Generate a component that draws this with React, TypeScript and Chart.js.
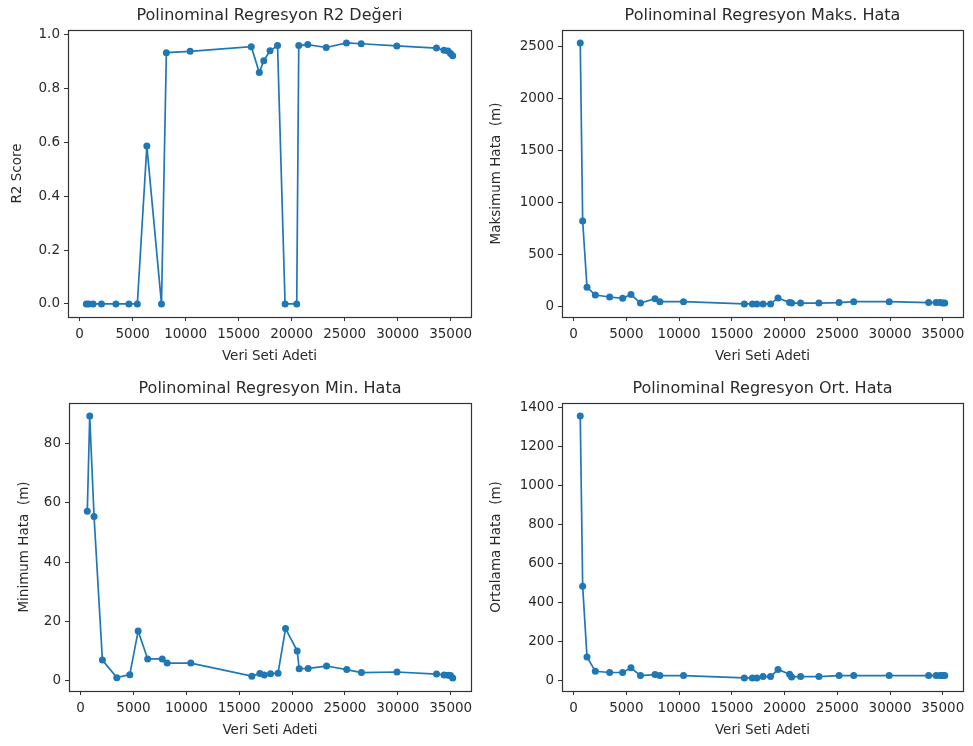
import React, { useEffect, useRef } from 'react';
import { Chart, registerables } from 'chart.js';
Chart.register(...registerables);

const veriSetiAdeti = [630, 860, 1270, 2060, 3420, 4650, 5440, 6340, 7720, 8180, 10420, 16190, 16950, 17370, 17960, 18670, 19380, 20480, 20670, 21520, 23260, 25170, 26560, 29920, 33660, 34370, 34750, 34990, 35190];
const r2Degeri = [0, 0, 0, 0, 0, 0, 0, 0.586, 0, 0.933, 0.938, 0.955, 0.859, 0.903, 0.94, 0.959, 0, 0, 0.959, 0.963, 0.952, 0.969, 0.966, 0.958, 0.95, 0.942, 0.939, 0.93, 0.921];
const maksHata = [2532, 824, 189, 115, 96, 83, 119, 38, 80, 51, 51, 29, 29, 29, 29, 29, 87, 42, 38, 38, 38, 42, 51, 51, 42, 42, 42, 38, 38];
const minHata = [57.1, 89.1, 55.3, 7.0, 1.1, 2.1, 16.8, 7.4, 7.4, 6.0, 6.0, 1.6, 2.5, 2.0, 2.4, 2.6, 17.6, 10.1, 4.1, 4.2, 5.0, 3.8, 2.8, 3.0, 2.3, 2.0, 1.9, 1.8, 1.0];
const ortHata = [1355, 482, 120, 46, 40, 40, 64, 24, 29, 24, 24, 12, 12, 12, 19, 19, 55, 31, 17, 19, 19, 24, 24, 24, 24, 24, 24, 24, 24];

const xTicks = [0, 5000, 10000, 15000, 20000, 25000, 30000, 35000];
const r2Ticks = [0, 0.2, 0.4, 0.6, 0.8, 1.0];
const maksTicks = [0, 500, 1000, 1500, 2000, 2500];
const minTicks = [0, 20, 40, 60, 80];
const ortTicks = [0, 200, 400, 600, 800, 1000, 1200, 1400];

const FONT = '"DejaVu Sans", sans-serif';
const TEXT = '#2a2a2a';
const BLUE = '#1f77b4';
const TICK_SIZE = 13.5;

type PanelProps = {
  left: number; top: number; plotW: number; plotH: number; yW: number;
  values: number[]; yMin: number; yMax: number; yTicks: number[];
  title: string; yLabel: string; fmt: (v: number) => string;
};

const PAD_TOP = 30;
const PAD_RIGHT = 8;
const X_H = 50;

function Panel(p: PanelProps) {
  const ref = useRef<HTMLCanvasElement>(null);
  useEffect(() => {
    const frameAndTitle = {
      id: 'frameAndTitle',
      afterDraw(chart: any) {
        const { ctx, chartArea } = chart;
        ctx.save();
        ctx.strokeStyle = '#333';
        ctx.lineWidth = 1.2;
        ctx.strokeRect(Math.round(chartArea.left) + 0.5, Math.round(chartArea.top) + 0.5,
          Math.round(chartArea.right - chartArea.left), Math.round(chartArea.bottom - chartArea.top));
        ctx.fillStyle = TEXT;
        ctx.font = `16px ${FONT}`;
        ctx.textAlign = 'center';
        ctx.textBaseline = 'middle';
        ctx.fillText(p.title, (chartArea.left + chartArea.right) / 2, chartArea.top - 14);
        ctx.restore();
      },
    };
    const chart = new Chart(ref.current!, {
      type: 'line',
      data: {
        datasets: [{
          data: veriSetiAdeti.map((x, i) => ({ x, y: p.values[i] })),
          borderColor: BLUE,
          backgroundColor: BLUE,
          pointBackgroundColor: BLUE,
          pointBorderWidth: 0,
          pointRadius: 3.5,
          borderWidth: 1.7,
          tension: 0,
        }],
      },
      options: {
        animation: false,
        responsive: false,
        maintainAspectRatio: false,
        layout: { padding: { top: PAD_TOP, right: PAD_RIGHT, left: 0, bottom: 0 } },
        plugins: { legend: { display: false }, tooltip: { enabled: false }, title: { display: false } },
        scales: {
          x: {
            type: 'linear',
            min: -1100,
            max: 36920,
            afterBuildTicks: (s: any) => { s.ticks = xTicks.map((v) => ({ value: v })); },
            afterFit: (s: any) => { s.height = X_H; },
            ticks: { autoSkip: false, maxRotation: 0, color: TEXT, font: { family: FONT, size: TICK_SIZE }, padding: 5, callback: (v: any) => String(v) },
            grid: { drawOnChartArea: false, drawTicks: true, tickLength: 4, color: '#333' },
            border: { display: false },
            title: { display: true, text: 'Veri Seti Adeti', color: TEXT, font: { family: FONT, size: TICK_SIZE }, padding: { top: 2, bottom: 2 } },
          },
          y: {
            type: 'linear',
            min: p.yMin,
            max: p.yMax,
            afterBuildTicks: (s: any) => { s.ticks = p.yTicks.map((v) => ({ value: v })); },
            afterFit: (s: any) => { s.width = p.yW; },
            ticks: { autoSkip: false, color: TEXT, font: { family: FONT, size: TICK_SIZE }, padding: 4, callback: (v: any) => p.fmt(Number(v)) },
            grid: { drawOnChartArea: false, drawTicks: true, tickLength: 4, color: '#333' },
            border: { display: false },
            title: { display: true, text: p.yLabel, color: TEXT, font: { family: FONT, size: TICK_SIZE }, padding: { top: 3, bottom: 4 } },
          },
        },
      },
      plugins: [frameAndTitle],
    } as any);
    return () => chart.destroy();
  }, []);
  const w = p.yW + p.plotW + PAD_RIGHT;
  const h = PAD_TOP + p.plotH + X_H;
  return (
    <div style={{ position: 'absolute', left: p.left - p.yW, top: p.top - PAD_TOP, width: w, height: h }}>
      <canvas ref={ref} width={w} height={h} style={{ width: w, height: h, display: 'block' }} />
    </div>
  );
}

const plain = (v: number) => String(v);

export default function App() {
  return (
    <div style={{ position: 'absolute', left: 0, top: 0, width: 973, height: 746, background: '#fff', overflow: 'hidden' }}>
      <Panel left={68} top={30} plotW={403} plotH={287} yW={62} values={r2Degeri} yMin={-0.0485} yMax={1.017}
        yTicks={r2Ticks} title="Polinominal Regresyon R2 Değeri" yLabel="R2 Score" fmt={(v) => v.toFixed(1)} />
      <Panel left={562} top={30} plotW={401} plotH={287} yW={77} values={maksHata} yMin={-96} yMax={2657}
        yTicks={maksTicks} title="Polinominal Regresyon Maks. Hata" yLabel="Maksimum Hata  (m)" fmt={plain} />
      <Panel left={69} top={403} plotW={402} plotH={288} yW={56} values={minHata} yMin={-3.4} yMax={93.5}
        yTicks={minTicks} title="Polinominal Regresyon Min. Hata" yLabel="Minimum Hata  (m)" fmt={plain} />
      <Panel left={562} top={403} plotW={401} plotH={288} yW={77} values={ortHata} yMin={-55} yMax={1422}
        yTicks={ortTicks} title="Polinominal Regresyon Ort. Hata" yLabel="Ortalama Hata  (m)" fmt={plain} />
    </div>
  );
}
